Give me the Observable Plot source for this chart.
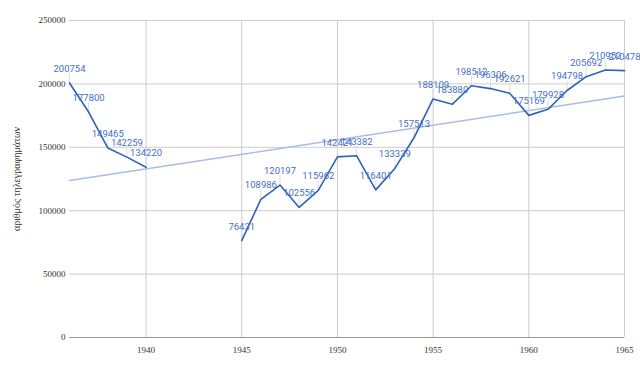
<!DOCTYPE html>
<html>
<head>
<meta charset="utf-8">
<script src="https://cdn.jsdelivr.net/npm/d3@7"></script>
<script src="https://cdn.jsdelivr.net/npm/@observablehq/plot@0.6"></script>
<style>
  html, body { margin: 0; padding: 0; background: #fff; }
</style>
</head>
<body>
<div id="chart"></div>
<script>
const years = [1936, 1937, 1938, 1939, 1940, 1941, 1942, 1943, 1944, 1945, 1946, 1947, 1948, 1949, 1950, 1951, 1952, 1953, 1954, 1955, 1956, 1957, 1958, 1959, 1960, 1961, 1962, 1963, 1964, 1965];
const values = [200754, 177800, 149465, 142259, 134220, null, null, null, null, 76431, 108986, 120197, 102556, 115962, 142421, 143382, 116401, 133339, 157513, 188109, 183880, 198512, 196306, 192621, 175169, 179928, 194798, 205692, 210952, 210478];
const xTicks = [1940, 1945, 1950, 1955, 1960, 1965];
const yTicks = [0, 50000, 100000, 150000, 200000, 250000];
const yLabel = "αριθμός τηλεγραφημάτων";

const rows = years.map((year, i) => ({year, value: values[i]}));
const defined = rows.filter(d => d.value != null);

const blue = "#2f62b8";

const chart = Plot.plot({
  width: 640,
  height: 368,
  marginLeft: 69,
  marginRight: 16,
  marginTop: 20,
  marginBottom: 31,
  style: {fontFamily: "'Liberation Serif', serif", fontSize: "9px", color: "#333", background: "#fff"},
  x: {domain: [1936, 1965], ticks: xTicks, tickFormat: d => String(d), tickSize: 0, tickPadding: 9, label: null},
  y: {domain: [0, 250000], ticks: yTicks, tickFormat: d => String(d), tickSize: 0, tickPadding: 4,
      label: yLabel, labelAnchor: "center", labelOffset: 57, labelArrow: "none"},
  marks: [
    Plot.ruleX(xTicks, {stroke: "#cccccc", strokeWidth: 1}),
    Plot.ruleY(yTicks.filter(t => t > 0), {stroke: "#cccccc", strokeWidth: 1}),
    Plot.ruleY([0], {stroke: "#999999", strokeWidth: 1.2}),
    Plot.linearRegressionY(defined, {x: "year", y: "value", ci: 0, stroke: "#a8bde3", strokeWidth: 1.5}),
    Plot.ruleX(defined, {x: "year", y1: "value", y2: d => d.value + 7500, stroke: "#dddddd", strokeWidth: 1}),
    Plot.line(rows, {x: "year", y: "value", stroke: blue, strokeWidth: 1.6}),
    Plot.text(defined, {x: "year", y: "value", text: d => String(d.value), dy: -11, lineAnchor: "bottom",
      fill: "#4470c4", fontFamily: "Roboto, 'Liberation Sans', Arial, sans-serif", fontSize: 9.5})
  ]
});
chart.querySelectorAll('[aria-label="y-axis label"] text').forEach(el => {
  el.textContent = el.textContent.replace(/[↑↓←→]\s*/g, "").trim();
  el.setAttribute("font-size", "10");
});
document.getElementById("chart").appendChild(chart);
</script>
</body>
</html>
